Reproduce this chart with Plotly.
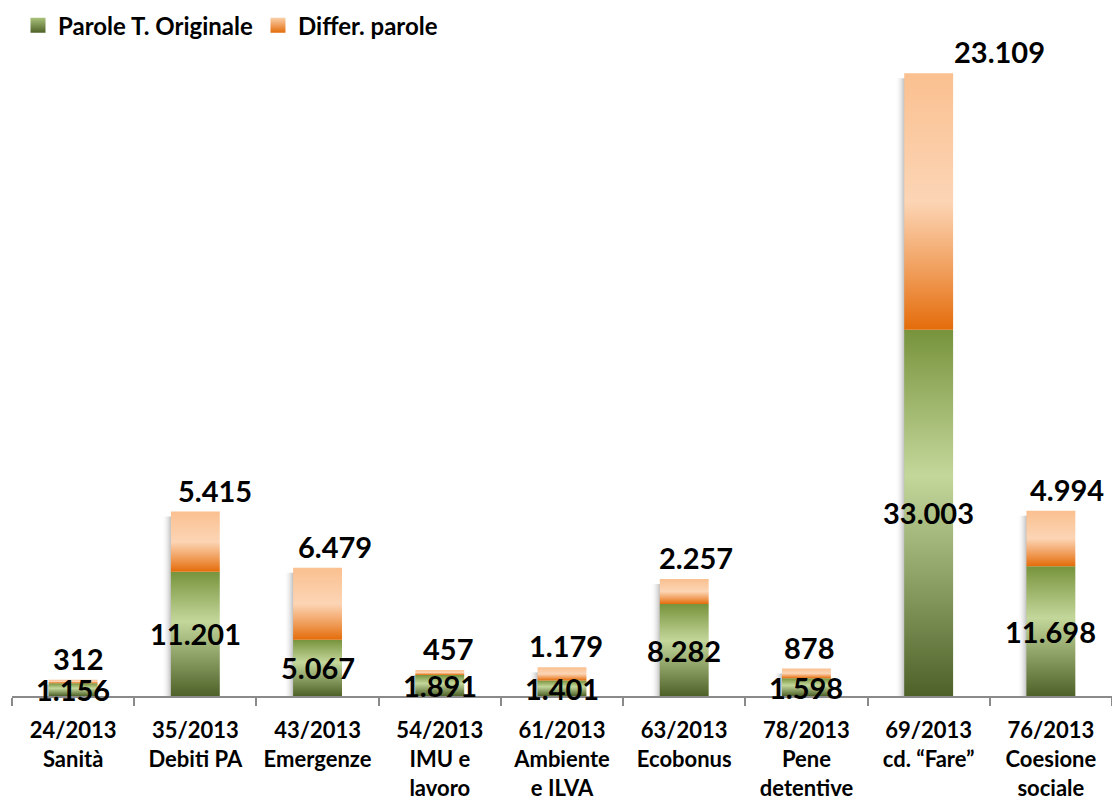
import plotly.graph_objects as go

# ---------------- data ----------------
categories = [
    "24/2013<br>Sanità",
    "35/2013<br>Debiti PA",
    "43/2013<br>Emergenze",
    "54/2013<br>IMU e<br>lavoro",
    "61/2013<br>Ambiente<br>e ILVA",
    "63/2013<br>Ecobonus",
    "78/2013<br>Pene<br>detentive",
    "69/2013<br>cd. “Fare”",
    "76/2013<br>Coesione<br>sociale",
]
parole_originale = [1156, 11201, 5067, 1891, 1401, 8282, 1598, 33003, 11698]
differ_parole = [312, 5415, 6479, 457, 1179, 2257, 878, 23109, 4994]
series_names = ["Parole T. Originale", "Differ. parole"]

# ---------------- style ----------------
FONT = "Lato, 'Open Sans', sans-serif"
BAR_W = 0.40
GREEN_SCALE = [[0, "#4e6128"], [0.6, "#c4d79b"], [1, "#77933c"]]
ORANGE_SCALE = [[0, "#e46c0a"], [0.22, "#f09c58"], [0.5, "#fcd5b5"], [1, "#fac090"]]
SHADOW_SCALE = [[0, "rgba(255,255,255,0)"], [1, "rgba(110,110,110,0.55)"]]
LEGEND_TOP = ["#a9c27a", "#fbcfa9"]
LEGEND_BOTTOM = ["#4e6128", "#e46c0a"]
TOP_LABEL_DX = [5, 20, 17, 8, 4, 12, 3, 71, 16]  # px shift of top labels


def fmt(v):
    return f"{v:,}".replace(",", ".")


fig = go.Figure()

n = len(categories)
xs = list(range(n))

# shadows
for i in xs:
    top = parole_originale[i] + differ_parole[i]
    left = i - BAR_W / 2
    x0, x1 = left - 0.075, left + 0.01
    y1 = max(top - 450, top * 0.5)
    fig.add_trace(go.Scatter(
        x=[x0, x1, x1, x0, x0], y=[0, 0, y1, y1, 0],
        fill="toself", mode="lines", line=dict(width=0),
        fillgradient=dict(type="horizontal", colorscale=SHADOW_SCALE, start=x0, stop=x1),
        hoverinfo="skip", showlegend=False,
    ))

# bar segments
for i in xs:
    g = parole_originale[i]
    o = differ_parole[i]
    l, r = i - BAR_W / 2, i + BAR_W / 2
    fig.add_trace(go.Scatter(
        x=[l, r, r, l, l], y=[0, 0, g, g, 0],
        fill="toself", mode="lines", line=dict(width=0),
        fillgradient=dict(type="vertical", colorscale=GREEN_SCALE, start=0, stop=g),
        hoverinfo="skip", showlegend=False, name=series_names[0],
    ))
    fig.add_trace(go.Scatter(
        x=[l, r, r, l, l], y=[g, g, g + o, g + o, g],
        fill="toself", mode="lines", line=dict(width=0),
        fillgradient=dict(type="vertical", colorscale=ORANGE_SCALE, start=g, stop=g + o),
        hoverinfo="skip", showlegend=False, name=series_names[1],
    ))

# legend entries
for name, ctop, cbot in zip(series_names, LEGEND_TOP, LEGEND_BOTTOM):
    fig.add_trace(go.Scatter(
        x=[None], y=[None], name=name, mode="markers",
        marker=dict(symbol="square", size=15, color=ctop, line=dict(width=0),
                    gradient=dict(type="vertical", color=cbot)),
    ))

# labels
for i in xs:
    g = parole_originale[i]
    o = differ_parole[i]
    fig.add_annotation(
        x=i, y=g / 2, text=fmt(g), showarrow=False, yanchor="middle",
        font=dict(family=FONT, size=29, color="black", weight=700),
    )
    fig.add_annotation(
        x=i, y=g + o, text=fmt(o), showarrow=False, yanchor="bottom",
        xshift=TOP_LABEL_DX[i], yshift=2,
        font=dict(family=FONT, size=29, color="black", weight=700),
    )

fig.update_layout(
    width=1112, height=806,
    margin=dict(l=12, r=0, t=60, b=110),
    paper_bgcolor="white", plot_bgcolor="white",
    font=dict(family=FONT, color="black"),
    showlegend=True,
    legend=dict(
        orientation="h", xref="container", yref="container",
        x=0.0162, y=0.996, xanchor="left", yanchor="top",
        font=dict(family=FONT, size=24, color="black", weight=700),
        bgcolor="rgba(0,0,0,0)", itemclick=False, itemdoubleclick=False,
    ),
    xaxis=dict(
        range=[-0.5, n - 0.5], tickmode="array", tickvals=xs, ticktext=categories,
        ticks="", showgrid=False, zeroline=False,
        showline=True, linecolor="#8a8a8a", linewidth=2,
        tickfont=dict(family=FONT, size=22, color="black", weight=700),
        ticklabelstandoff=14,
        minor=dict(tickmode="array", tickvals=[i - 0.5 for i in range(n + 1)],
                   ticks="outside", ticklen=8, tickwidth=2, tickcolor="#8a8a8a",
                   showgrid=False),
        fixedrange=True,
    ),
    yaxis=dict(range=[0, 57300], visible=False, showgrid=False, zeroline=False,
               fixedrange=True),
)

fig.write_html(
    "out.html",
    config={"displayModeBar": False},
    post_script="document.body.style.margin='0';document.body.style.overflow='hidden';",
)
